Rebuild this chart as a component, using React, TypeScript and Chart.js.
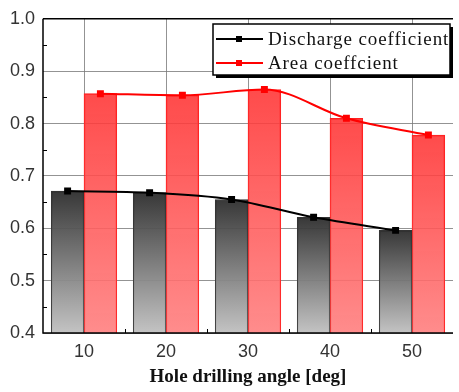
import React, { useEffect, useRef } from "react";
import { Chart, registerables } from "chart.js";

Chart.register(...registerables);

const categories = ["10", "20", "30", "40", "50"];
const dischargeCoef = [0.671, 0.668, 0.655, 0.621, 0.596];
const areaCoef = [0.857, 0.854, 0.865, 0.81, 0.778];
const yTicks = [0.4, 0.5, 0.6, 0.7, 0.8, 0.9, 1.0];
const seriesNames = ["Discharge coefficient", "Area coeffcient"];
const xTitle = "Hole drilling angle [deg]";

const Y_MIN = 0.4;
const Y_MAX = 1.0;
const BAR_SHIFT = 0.2;

function gradientFill(ctx: any, top: string, bottom: string, fallback: string) {
  const chart = ctx.chart;
  const ya = chart.scales && chart.scales.y;
  if (!ya || !chart.chartArea || ctx.type !== "data") return fallback;
  const v = ctx.raw && typeof ctx.raw === "object" ? ctx.raw.y : ctx.raw;
  const yTop = ya.getPixelForValue(v);
  const yBot = ya.getPixelForValue(Y_MIN);
  if (!isFinite(yTop) || !isFinite(yBot) || yTop === yBot) return fallback;
  const g = chart.ctx.createLinearGradient(0, yTop, 0, yBot);
  g.addColorStop(0, top);
  g.addColorStop(1, bottom);
  return g;
}

const decorPlugin = {
  id: "decor",
  afterDatasetsDraw(chart: any) {
    const { ctx, chartArea } = chart;
    const ya = chart.scales.y;
    const xa = chart.scales.x;
    ctx.save();
    ctx.strokeStyle = "#000";
    ctx.lineWidth = 1.5;
    ctx.beginPath();
    ctx.moveTo(chartArea.left, chartArea.top);
    ctx.lineTo(chartArea.right, chartArea.top);
    ctx.moveTo(chartArea.left, chartArea.top);
    ctx.lineTo(chartArea.left, chartArea.bottom);
    ctx.lineTo(chartArea.right, chartArea.bottom);
    ctx.stroke();
    ctx.lineWidth = 1;
    ctx.beginPath();
    for (let i = 0; i < yTicks.length - 1; i++) {
      const v = (yTicks[i] + yTicks[i + 1]) / 2;
      const py = Math.round(ya.getPixelForValue(v)) + 0.5;
      ctx.moveTo(chartArea.left, py);
      ctx.lineTo(chartArea.left + 4, py);
    }
    for (let i = 0; i < categories.length - 1; i++) {
      const px = Math.round(xa.getPixelForValue(i + 0.5)) + 0.5;
      ctx.moveTo(px, chartArea.bottom);
      ctx.lineTo(px, chartArea.bottom - 4);
    }
    ctx.stroke();
    ctx.restore();
  },
  afterDraw(chart: any) {
    const { ctx } = chart;
    ctx.save();
    const bx = 213, by = 24, bw = 237, bh = 51;
    ctx.fillStyle = "#000";
    ctx.fillRect(bx + 3, by + 3, bw, bh);
    ctx.fillStyle = "#fff";
    ctx.fillRect(bx, by, bw, bh);
    ctx.strokeStyle = "#000";
    ctx.lineWidth = 1.5;
    ctx.strokeRect(bx, by, bw, bh);
    const rows = [
      { name: seriesNames[0], color: "#000", y: by + 15 },
      { name: seriesNames[1], color: "#ff0000", y: by + 39 },
    ];
    ctx.font = "19px 'Liberation Serif', 'DejaVu Serif', serif";
    try {
      (ctx as any).letterSpacing = "0.9px";
    } catch (e) {}
    ctx.textBaseline = "middle";
    ctx.textAlign = "left";
    for (const r of rows) {
      ctx.strokeStyle = r.color;
      ctx.lineWidth = 2;
      ctx.beginPath();
      ctx.moveTo(bx + 3, r.y);
      ctx.lineTo(bx + 50, r.y);
      ctx.stroke();
      ctx.fillStyle = r.color;
      ctx.fillRect(bx + 23, r.y - 3, 6, 6);
      ctx.fillStyle = "#111";
      ctx.fillText(r.name, bx + 55, r.y + 1);
    }
    ctx.restore();
  },
};

export default function App() {
  const canvasRef = useRef<HTMLCanvasElement | null>(null);

  useEffect(() => {
    if (!canvasRef.current) return;
    const chart = new Chart(canvasRef.current, {
      type: "line",
      data: {
        datasets: [
          {
            type: "bar",
            label: seriesNames[0] + " bars",
            data: dischargeCoef.map((v, i) => ({ x: i - BAR_SHIFT, y: v })),
            backgroundColor: (c: any) =>
              gradientFill(c, "rgba(45,45,45,0.95)", "rgba(192,192,192,0.95)", "#888"),
            borderColor: "#333",
            borderWidth: 1,
            grouped: false,
            barPercentage: 1,
            categoryPercentage: 1,
            order: 2,
          },
          {
            type: "bar",
            label: seriesNames[1] + " bars",
            data: areaCoef.map((v, i) => ({ x: i + BAR_SHIFT, y: v })),
            backgroundColor: (c: any) =>
              gradientFill(c, "rgba(255,50,50,0.88)", "rgba(255,128,128,0.9)", "#f66"),
            borderColor: "#ff2020",
            borderWidth: 1,
            grouped: false,
            barPercentage: 1,
            categoryPercentage: 1,
            order: 2,
          },
          {
            type: "line",
            label: seriesNames[0],
            data: dischargeCoef.map((v, i) => ({ x: i - BAR_SHIFT, y: v })),
            borderColor: "#000",
            backgroundColor: "#000",
            borderWidth: 2,
            pointStyle: "rect",
            pointRadius: 3.5,
            cubicInterpolationMode: "monotone",
            order: 1,
          },
          {
            type: "line",
            label: seriesNames[1],
            data: areaCoef.map((v, i) => ({ x: i + BAR_SHIFT, y: v })),
            borderColor: "#ff0000",
            backgroundColor: "#ff0000",
            borderWidth: 2,
            pointStyle: "rect",
            pointRadius: 3.5,
            cubicInterpolationMode: "monotone",
            order: 1,
          },
        ] as any,
      },
      options: {
        animation: false,
        responsive: false,
        maintainAspectRatio: false,
        layout: { padding: { top: 16, right: 0, left: 0, bottom: 0 } },
        plugins: {
          legend: { display: false },
          tooltip: { enabled: false },
        },
        scales: {
          x: {
            type: "linear",
            min: -0.5,
            max: categories.length - 0.5,
            offset: false,
            afterBuildTicks: (s: any) => {
              s.ticks = categories.map((_, i) => ({ value: i }));
            },
            grid: { offset: false, color: "rgba(120,120,120,0.8)", lineWidth: 1, drawTicks: false },
            border: { display: false },
            ticks: {
              color: "#333",
              font: { family: "'Liberation Sans', Arial, sans-serif", size: 18 },
              padding: 8,
              maxRotation: 0,
              autoSkip: false,
              callback: (v: any) => categories[Math.round(Number(v))] ?? "",
            },
            title: {
              display: true,
              text: xTitle,
              color: "#111",
              font: { family: "'Liberation Serif', 'Times New Roman', serif", size: 19, weight: "bold" },
              padding: { top: 3, bottom: 4 },
            },
            afterFit: (s: any) => {
              s.height = 59;
            },
          },
          y: {
            type: "linear",
            min: Y_MIN,
            max: Y_MAX,
            afterBuildTicks: (s: any) => {
              s.ticks = yTicks.map((v) => ({ value: v }));
            },
            grid: { color: "rgba(120,120,120,0.8)", lineWidth: 1, drawTicks: false },
            border: { display: false },
            ticks: {
              color: "#333",
              font: { family: "'Liberation Sans', Arial, sans-serif", size: 18 },
              padding: 8,
              callback: (v: any) => Number(v).toFixed(1),
            },
            afterFit: (s: any) => {
              s.width = 43;
            },
          },
        },
      } as any,
      plugins: [decorPlugin],
    });
    return () => chart.destroy();
  }, []);

  return (
    <div style={{ position: "fixed", left: 0, top: 0, width: 459, height: 392, background: "#fff" }}>
      <canvas ref={canvasRef} width={459} height={392} style={{ width: 459, height: 392 }} />
    </div>
  );
}
